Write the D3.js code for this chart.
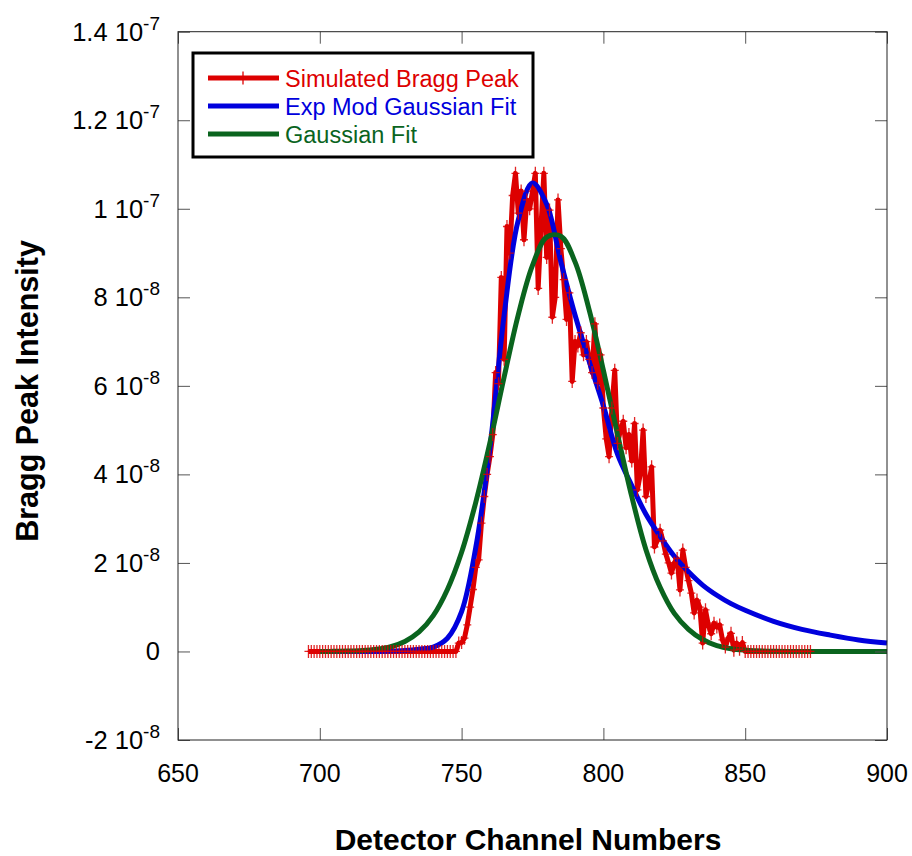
<!DOCTYPE html>
<html>
<head>
<meta charset="utf-8">
<script src="https://cdn.jsdelivr.net/npm/d3@7/dist/d3.min.js"></script>
<style>
  body { margin: 0; background: #fff; }
  svg { font-family: "Liberation Sans", Arial, sans-serif; }
</style>
</head>
<body>
<svg id="chart" width="912" height="856"></svg>
<script>
// values in units of 1e-8
var simStart = 696;
var simValues = [
  0, 0, 0, 0, 0, 0, 0, 0, 0, 0, 0, 0, 0, 0,            // 696-709
  0, 0, 0, 0, 0, 0, 0, 0, 0, 0, 0, 0, 0, 0, 0, 0, 0, 0, 0, 0, // 710-729
  0, 0, 0, 0, 0, 0, 0, 0, 0, 0, 0, 0, 0, 0, 0, 0, 0, 0, 0,    // 730-748
  0.19, 0.2, 0.3, 0.6, 1.0, 1.4, 1.9, 2.07, 2.9, 3.5, 4.0,    // 749-759
  4.4, 4.9, 6.3, 6.05, 8.45, 6.6, 9.6, 9.0, 10.3, 10.8,       // 760-769
  9.9, 10.4, 9.3, 10.2, 10.0, 10.4, 10.8, 8.2, 9.6, 10.8,     // 770-779
  8.9, 9.97, 7.55, 8.0, 10.2, 9.1, 8.4, 7.5, 8.1, 6.1,        // 780-789
  7.0, 6.9, 7.2, 6.7, 7.0, 6.6, 6.3, 7.4, 6.06, 6.7,          // 790-799
  5.5, 4.8, 4.4, 5.5, 6.35, 4.7, 5.0, 5.2, 4.6, 4.9,          // 800-809
  4.3, 5.15, 3.65, 4.0, 5.0, 3.5, 3.8, 4.17, 2.36, 2.5,       // 810-819
  2.74, 2.5, 2.2, 2.0, 1.77, 2.0, 2.1, 1.39, 2.29, 1.9,       // 820-829
  1.6, 1.32, 0.87, 1.16, 1.0, 0.19, 0.94, 0.6, 0.4, 0.64,     // 830-839
  0.55, 0.6, 0.26, 0.1, 0.3, 0.41, 0.03, 0.19, 0.05, 0.2,     // 840-849
  0, 0, 0, 0, 0, 0, 0, 0, 0, 0, 0, 0, 0, 0, 0, 0, 0, 0, 0, 0, 0, 0, 0, 0 // 850-873
];

var fitChannels = [700, 705, 710, 715, 720, 725, 730, 735, 740, 745, 750, 755, 760, 765, 770,
  775, 780, 785, 790, 795, 800, 805, 810, 815, 820, 825, 830, 835, 840, 845, 850,
  860, 870, 880, 890, 900];
var expModValues = [0, 0, 0, 0, 0, 0.01, 0.02, 0.05, 0.1, 0.3, 0.9, 2.35, 4.6, 7.6, 9.75,
  10.58, 10.1, 8.8, 7.6, 6.55, 5.55, 4.45, 3.75, 3.1, 2.6, 2.15, 1.8, 1.5, 1.27, 1.08, 0.93,
  0.68, 0.5, 0.37, 0.26, 0.19];
var gaussValues = [0.001, 0.003, 0.008, 0.02, 0.048, 0.107, 0.225, 0.44, 0.81, 1.4, 2.24, 3.37,
  4.72, 6.2, 7.61, 8.72, 9.36, 9.38, 8.8, 7.71, 6.35, 4.9, 3.5, 2.3, 1.45, 0.86, 0.5,
  0.27, 0.13, 0.06, 0.03, 0.004, 0, 0, 0, 0];

var xTicks = [650, 700, 750, 800, 850, 900];
var yTicks = [-2, 0, 2, 4, 6, 8, 10, 12, 14];
var yTickMantissa = ['-2', '0', '2', '4', '6', '8', '1', '1.2', '1.4'];
var yTickExponent = ['-8', '', '-8', '-8', '-8', '-8', '-7', '-7', '-7'];

var seriesNames = ['Simulated Bragg Peak', 'Exp Mod Gaussian Fit', 'Gaussian Fit'];
var seriesColors = ['#dd0000', '#0000dd', '#0a641e'];

var plotLeft = 178, plotRight = 887, plotTop = 31.7, plotBottom = 740;

var svg = d3.select('#chart');
var x = d3.scaleLinear().domain([650, 900]).range([plotLeft, plotRight]);
var y = d3.scaleLinear().domain([-2, 14]).range([plotBottom, plotTop]);

var simData = simValues.map(function (v, i) { return [simStart + i, v]; });
var expData = fitChannels.map(function (c, i) { return [c, expModValues[i]]; });
var gaussData = fitChannels.map(function (c, i) { return [c, gaussValues[i]]; });

var plot = svg.append('g');

var rawLine = d3.line().x(function (d) { return x(d[0]); }).y(function (d) { return y(d[1]); });
var smoothLine = d3.line().curve(d3.curveCatmullRom.alpha(0.5))
  .x(function (d) { return x(d[0]); }).y(function (d) { return y(d[1]); });

plot.append('path').datum(simData).attr('d', rawLine)
  .attr('fill', 'none').attr('stroke', seriesColors[0]).attr('stroke-width', 5)
  .attr('stroke-linejoin', 'round');
plot.append('path').datum(expData).attr('d', smoothLine)
  .attr('fill', 'none').attr('stroke', seriesColors[1]).attr('stroke-width', 5);
plot.append('path').datum(gaussData).attr('d', smoothLine)
  .attr('fill', 'none').attr('stroke', seriesColors[2]).attr('stroke-width', 5);

// + markers
plot.selectAll('.mark').data(simData).enter().append('path')
  .attr('class', 'mark')
  .attr('d', function (d) {
    var cx = x(d[0]), cy = y(d[1]);
    return 'M' + cx + ',' + (cy - 6.5) + 'V' + (cy + 6.5) + 'M' + (cx - 4) + ',' + cy + 'H' + (cx + 4);
  })
  .attr('stroke', seriesColors[0]).attr('stroke-width', 1.3).attr('opacity', 0.85);

// frame + inward ticks on all four sides
var tickColor = '#555';
function styleAxis(g) {
  g.select('.domain').remove();
  g.selectAll('.tick line').attr('stroke', tickColor);
  g.selectAll('.tick text').remove();
}
svg.append('g').attr('transform', 'translate(' + plotLeft + ',0)')
  .call(d3.axisLeft(y).tickValues(yTicks).tickSize(-12)).call(styleAxis);
svg.append('g').attr('transform', 'translate(' + plotRight + ',0)')
  .call(d3.axisRight(y).tickValues(yTicks).tickSize(-12)).call(styleAxis);
svg.append('g').attr('transform', 'translate(0,' + plotBottom + ')')
  .call(d3.axisBottom(x).tickValues(xTicks).tickSize(-12)).call(styleAxis);
svg.append('g').attr('transform', 'translate(0,' + plotTop + ')')
  .call(d3.axisTop(x).tickValues(xTicks).tickSize(-12)).call(styleAxis);

svg.append('rect').attr('x', plotLeft).attr('y', plotTop)
  .attr('width', plotRight - plotLeft).attr('height', plotBottom - plotTop)
  .attr('fill', 'none').attr('stroke', '#222').attr('stroke-width', 1);

// tick labels
svg.append('g').selectAll('text').data(xTicks).enter().append('text')
  .attr('x', function (d) { return x(d); }).attr('y', 782)
  .attr('text-anchor', 'middle').attr('font-size', 25).attr('fill', '#000')
  .text(function (d) { return d; });

var yLab = svg.append('g').selectAll('text').data(yTicks).enter().append('text')
  .attr('x', 160).attr('y', function (d) { return y(d) + 9; })
  .attr('text-anchor', 'end').attr('font-size', 25.5).attr('fill', '#000');
yLab.each(function (d, i) {
  var t = d3.select(this);
  if (yTickExponent[i]) {
    t.append('tspan').text(yTickMantissa[i] + ' 10');
    t.append('tspan').attr('font-size', 19).attr('dy', -11).text(yTickExponent[i]);
  } else {
    t.text(yTickMantissa[i]);
  }
});

// axis titles
svg.append('text').attr('x', 528).attr('y', 850)
  .attr('text-anchor', 'middle').attr('font-size', 30).attr('font-weight', 'bold')
  .text('Detector Channel Numbers');
svg.append('text').attr('transform', 'translate(38,391) rotate(-90)')
  .attr('text-anchor', 'middle').attr('font-size', 30.5).attr('font-weight', 'bold')
  .text('Bragg Peak Intensity');

// legend
var legend = svg.append('g');
legend.append('rect').attr('x', 193).attr('y', 53).attr('width', 340).attr('height', 104)
  .attr('fill', '#fff').attr('stroke', '#000').attr('stroke-width', 3);
var rowY = [78, 106, 134];
seriesNames.forEach(function (name, i) {
  legend.append('line').attr('x1', 208).attr('x2', 279)
    .attr('y1', rowY[i]).attr('y2', rowY[i])
    .attr('stroke', seriesColors[i]).attr('stroke-width', 5);
  legend.append('text').attr('x', 285).attr('y', rowY[i] + 8.5)
    .attr('font-size', 23.5).attr('fill', seriesColors[i]).text(name);
});
legend.append('line').attr('x1', 243).attr('x2', 243).attr('y1', 71.5).attr('y2', 84.5)
  .attr('stroke', seriesColors[0]).attr('stroke-width', 1.3);
</script>
</body>
</html>
